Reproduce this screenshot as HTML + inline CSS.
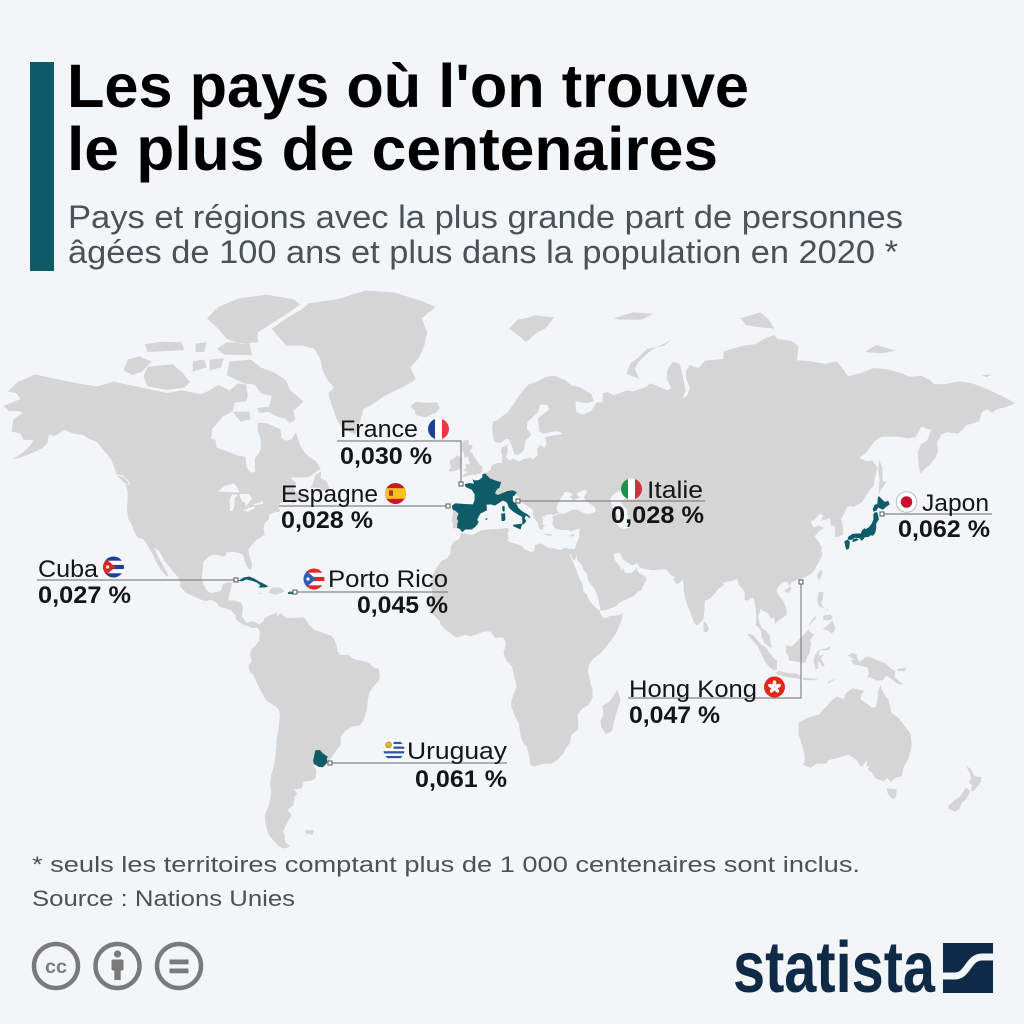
<!DOCTYPE html>
<html lang="fr">
<head>
<meta charset="utf-8">
<title>Les pays où l'on trouve le plus de centenaires</title>
<style>
  html,body{margin:0;padding:0;background:#f3f6f9;}
  svg{display:block;}
  text{font-family:"Liberation Sans", Arial, sans-serif;}
  .nm{font-size:24px;fill:#151515;}
  .vl{font-size:24px;font-weight:700;fill:#151515;}
  .ln{stroke:#858585;stroke-width:1.2;fill:none;}
  .mk{fill:#fff;stroke:#555;stroke-width:1;}
</style>
</head>
<body>
<svg id="root" width="1024" height="1024" viewBox="0 0 1024 1024" xmlns="http://www.w3.org/2000/svg">
  <defs>
    <clipPath id="c"><circle cx="0" cy="0" r="10.5"/></clipPath>
  </defs>
  <rect x="0" y="0" width="1024" height="1024" fill="#f3f6f9"/>

  <!-- map layers -->
  <g id="land" fill="#d5d5d5"></g>
  <g id="water" fill="#f3f6f9"></g>
  <g id="teal" fill="#0e5c68"></g>

  <!-- title block -->
  <rect x="30" y="62" width="24" height="209" fill="#0d5b66"/>
  <text x="67" y="107" font-size="61" font-weight="700" fill="#000" textLength="682" lengthAdjust="spacingAndGlyphs">Les pays où l'on trouve</text>
  <text x="67" y="170" font-size="61" font-weight="700" fill="#000" textLength="651" lengthAdjust="spacingAndGlyphs">le plus de centenaires</text>
  <text x="68" y="228" font-size="32" fill="#4c5157" textLength="835" lengthAdjust="spacingAndGlyphs">Pays et régions avec la plus grande part de personnes</text>
  <text x="68" y="263" font-size="32" fill="#4c5157" textLength="830" lengthAdjust="spacingAndGlyphs">âgées de 100 ans et plus dans la population en 2020 *</text>

  <!-- leader lines -->
  <path class="ln" d="M337,441 H461 V484"/>
  <path class="ln" d="M279,506 H448"/>
  <path class="ln" d="M518,501 H705"/>
  <path class="ln" d="M289,592 H448"/>
  <path class="ln" d="M37,580 H236"/>
  <path class="ln" d="M330,763 H507"/>
  <path class="ln" d="M628,698 H801 V583"/>
  <path class="ln" d="M882,514 H992"/>
  <rect class="mk" x="459" y="482" width="4" height="4"/>
  <rect class="mk" x="446" y="504" width="4" height="4"/>
  <rect class="mk" x="516" y="499" width="4" height="4"/>
  <rect class="mk" x="293" y="590" width="4" height="4"/>
  <rect class="mk" x="234" y="578" width="4" height="4"/>
  <rect class="mk" x="328" y="761" width="4" height="4"/>
  <rect class="mk" x="799" y="580" width="4" height="4"/>
  <rect class="mk" x="880" y="512" width="4" height="4"/>

  <!-- labels -->
  <text class="nm" x="340" y="437" textLength="78" lengthAdjust="spacingAndGlyphs">France</text>
  <text class="vl" x="340" y="464" textLength="92" lengthAdjust="spacingAndGlyphs">0,030 %</text>

  <text class="nm" x="281" y="502" textLength="97" lengthAdjust="spacingAndGlyphs">Espagne</text>
  <text class="vl" x="281" y="528" textLength="92" lengthAdjust="spacingAndGlyphs">0,028 %</text>

  <text class="nm" x="647" y="498" textLength="56" lengthAdjust="spacingAndGlyphs">Italie</text>
  <text class="vl" x="611" y="523" textLength="93" lengthAdjust="spacingAndGlyphs">0,028 %</text>

  <text class="nm" x="328" y="587" textLength="120" lengthAdjust="spacingAndGlyphs">Porto Rico</text>
  <text class="vl" x="357" y="613" textLength="91" lengthAdjust="spacingAndGlyphs">0,045 %</text>

  <text class="nm" x="38" y="577" textLength="60" lengthAdjust="spacingAndGlyphs">Cuba</text>
  <text class="vl" x="38" y="603" textLength="93" lengthAdjust="spacingAndGlyphs">0,027 %</text>

  <text class="nm" x="407" y="759" textLength="100" lengthAdjust="spacingAndGlyphs">Uruguay</text>
  <text class="vl" x="415" y="787" textLength="92" lengthAdjust="spacingAndGlyphs">0,061 %</text>

  <text class="nm" x="629" y="697" textLength="128" lengthAdjust="spacingAndGlyphs">Hong Kong</text>
  <text class="vl" x="629" y="723" textLength="91" lengthAdjust="spacingAndGlyphs">0,047 %</text>

  <text class="nm" x="922" y="511" textLength="67" lengthAdjust="spacingAndGlyphs">Japon</text>
  <text class="vl" x="898" y="537" textLength="92" lengthAdjust="spacingAndGlyphs">0,062 %</text>

  <!-- flags -->
  <!-- France -->
  <g transform="translate(438.5,429)" clip-path="url(#c)">
    <rect x="-11" y="-11" width="7.5" height="22" fill="#1f3f97"/>
    <rect x="-3.5" y="-11" width="7" height="22" fill="#ffffff"/>
    <rect x="3.5" y="-11" width="7.5" height="22" fill="#e83a40"/>
  </g>
  <!-- Spain -->
  <g transform="translate(395.5,493.5)" clip-path="url(#c)">
    <rect x="-11" y="-11" width="22" height="22" fill="#c8182a"/>
    <rect x="-11" y="-5.3" width="22" height="10.6" fill="#f6c21b"/>
    <rect x="-6.5" y="-3.2" width="4" height="5.5" fill="#a8352a"/>
  </g>
  <!-- Italy -->
  <g transform="translate(631.5,489)" clip-path="url(#c)">
    <rect x="-11" y="-11" width="7.5" height="22" fill="#1a9448"/>
    <rect x="-3.5" y="-11" width="7" height="22" fill="#ffffff"/>
    <rect x="3.5" y="-11" width="7.5" height="22" fill="#d42f3a"/>
  </g>
  <!-- Cuba -->
  <g transform="translate(113.5,567)" clip-path="url(#c)">
    <rect x="-11" y="-11" width="22" height="22" fill="#ffffff"/>
    <rect x="-11" y="-10.5" width="22" height="4.2" fill="#1e3f96"/>
    <rect x="-11" y="-2.1" width="22" height="4.2" fill="#1e3f96"/>
    <rect x="-11" y="6.3" width="22" height="4.6" fill="#1e3f96"/>
    <polygon points="-11,-11 2,0 -11,11" fill="#d52b2b"/>
    <circle cx="-6" cy="0" r="1.6" fill="#fff"/>
  </g>
  <!-- Puerto Rico -->
  <g transform="translate(314,579)" clip-path="url(#c)">
    <rect x="-11" y="-11" width="22" height="22" fill="#ffffff"/>
    <rect x="-11" y="-10.5" width="22" height="4.2" fill="#e5262b"/>
    <rect x="-11" y="-2.1" width="22" height="4.2" fill="#e5262b"/>
    <rect x="-11" y="6.3" width="22" height="4.6" fill="#e5262b"/>
    <polygon points="-11,-11 2,0 -11,11" fill="#2f5fb3"/>
    <circle cx="-6" cy="0" r="1.6" fill="#fff"/>
  </g>
  <!-- Uruguay -->
  <g transform="translate(394,750)" clip-path="url(#c)">
    <rect x="-11" y="-11" width="22" height="22" fill="#ffffff"/>
    <rect x="-11" y="-8.2" width="22" height="2.3" fill="#2f55a4"/>
    <rect x="-11" y="-3.5" width="22" height="2.3" fill="#2f55a4"/>
    <rect x="-11" y="1.2" width="22" height="2.3" fill="#2f55a4"/>
    <rect x="-11" y="5.9" width="22" height="2.3" fill="#2f55a4"/>
    <rect x="-11" y="-11" width="10.5" height="11.5" fill="#ffffff"/>
    <circle cx="-5.5" cy="-5.2" r="3" fill="#e8b33a" stroke="#9a6a22" stroke-width="0.6"/>
  </g>
  <!-- Hong Kong -->
  <g transform="translate(774.5,687)">
    <circle r="10.5" fill="#e0281b"/>
    <g fill="#ffffff">
      <ellipse cx="0" cy="-3.6" rx="1.9" ry="3.2" transform="rotate(0)"/>
      <ellipse cx="0" cy="-3.6" rx="1.9" ry="3.2" transform="rotate(72)"/>
      <ellipse cx="0" cy="-3.6" rx="1.9" ry="3.2" transform="rotate(144)"/>
      <ellipse cx="0" cy="-3.6" rx="1.9" ry="3.2" transform="rotate(216)"/>
      <ellipse cx="0" cy="-3.6" rx="1.9" ry="3.2" transform="rotate(288)"/>
    </g>
  </g>
  <!-- Japan -->
  <g transform="translate(906.5,502)">
    <circle r="10.3" fill="#ffffff" stroke="#bdbdbd" stroke-width="1"/>
    <circle r="5.8" fill="#c8102e"/>
  </g>

  <!-- footer -->
  <text x="32" y="872" font-size="22" fill="#4c5157" textLength="828" lengthAdjust="spacingAndGlyphs">* seuls les territoires comptant plus de 1 000 centenaires sont inclus.</text>
  <text x="32" y="906" font-size="22" fill="#4c5157" textLength="263" lengthAdjust="spacingAndGlyphs">Source : Nations Unies</text>

  <!-- CC icons -->
  <g stroke="#7a7a7a" stroke-width="4.5" fill="none">
    <circle cx="56" cy="966" r="22"/>
    <circle cx="117.5" cy="966" r="22"/>
    <circle cx="179" cy="966" r="22"/>
  </g>
  <text x="56" y="973" font-size="19" font-weight="700" fill="#7a7a7a" text-anchor="middle" textLength="22" lengthAdjust="spacingAndGlyphs">cc</text>
  <g fill="#7a7a7a">
    <circle cx="117.5" cy="954" r="3.6"/>
    <rect x="111.5" y="959.5" width="12" height="11" rx="1.5"/>
    <rect x="114.3" y="969" width="6.4" height="11"/>
    <rect x="169.5" y="959.5" width="19" height="4.8"/>
    <rect x="169.5" y="968.5" width="19" height="4.8"/>
  </g>

  <!-- statista logo -->
  <text x="733" y="992" font-size="72" font-weight="700" fill="#0f2a46" textLength="202" lengthAdjust="spacingAndGlyphs">statista</text>
  <rect x="943" y="943" width="50" height="50" fill="#0f2a46"/>
  <path d="M941,976 L955,976 C968,976 968,957 982,957 L995,957" stroke="#f3f6f9" stroke-width="7" fill="none"/>
</svg>

<script>
(function(){
  var NS = "http://www.w3.org/2000/svg";
  function P(lon, lat){
    var x = 478 + 2.824*lon;
    var y = 651.5 - 227.4*Math.log(Math.tan(Math.PI/4 + 0.4*lat*Math.PI/180));
    return x.toFixed(1) + "," + y.toFixed(1);
  }
  function poly(a){
    var s = [];
    for (var i = 0; i < a.length; i += 2) s.push(P(a[i], a[i+1]));
    return "M" + s.join("L") + "Z";
  }
  function add(id, list){
    var d = "";
    for (var i = 0; i < list.length; i++) d += poly(list[i]);
    var e = document.createElementNS(NS, "path");
    e.setAttribute("d", d);
    document.getElementById(id).appendChild(e);
  }

  var NA = [-168,65.6,-164,66.5,-162,66.9,-163.5,68,-166.5,68.3,-163,70,-156.8,71.3,-152,70.8,-145,70.1,-141,69.7,-135,69.2,-129,70.1,-124,69.5,-117,68.8,-110,68,-105,68.5,-98,67.8,-95,68.5,-92,69.5,-88,68.5,-85,69.8,-82,69.5,-81.5,67.5,-82,66.5,-86,66.2,-87,64.5,-90.5,63.5,-94,61,-94.5,59,-93,58.7,-92.5,57,-88,56,-85,55.2,-82.3,55,-82,52.7,-80.5,51.3,-79,51.5,-79,54.5,-77,56.5,-76.8,58.5,-78,60.7,-78,62.3,-75,62.2,-72,61.5,-70,61,-69.5,59,-68,58.5,-66,58.8,-64.5,60.3,-63,57.5,-61.5,56,-60,55,-57.5,54,-55.7,52.2,-57.5,51.4,-60,50.2,-66.5,50.1,-64.3,48.8,-65.5,47.8,-64.6,46.6,-62,45.7,-60,46.2,-60,45.5,-63.5,44.5,-65.8,43.6,-66.1,44.9,-67.5,44.5,-70.2,43.6,-70.6,42.6,-70,41.8,-70.5,41.5,-72.5,41.2,-74,40.6,-74,39.5,-75.5,38.5,-76,37,-75.5,35.3,-77,34.5,-78.5,33.8,-80,32.5,-81.3,31,-81,29.5,-80,27,-80.2,25.5,-81,25.2,-82,26.5,-82.8,28,-83,29.5,-84.5,30,-86.5,30.4,-89,30.3,-89.5,29.2,-90.5,29.1,-93,29.7,-95,29.3,-97.2,27.6,-97.5,25.8,-97.8,22.5,-97,20.5,-96,19,-94.5,18.2,-92,18.6,-91,19,-90.4,20.8,-89,21.4,-87,21.5,-87.5,19.5,-88,18,-88.5,16,-86,15.9,-84,15.3,-83.3,14,-83.6,11,-82,9,-79.5,9.5,-77.5,8.5,-77.3,7.8,-78,7.5,-80,7.3,-81.5,8,-83.5,8.5,-85.7,10,-85.8,11.2,-87.5,13,-89.5,13.5,-91.5,14,-93,15.5,-94.5,16.1,-96.5,15.7,-98.5,16.3,-101,17.3,-103.5,18.3,-105.5,20.3,-105.3,21.6,-106.5,23.3,-109,25.8,-111,27.8,-112.8,30.5,-114.7,31.7,-113.2,29,-111.5,26.5,-110,24,-109.5,23.1,-110.3,23.3,-112,24.8,-114,27.5,-115,29.5,-116.5,31.5,-117.2,32.6,-118.5,34,-120.6,34.5,-121.9,36.5,-122.5,37.8,-123.8,39.5,-124.3,42,-124,46.2,-124.7,48.4,-123,48.3,-124,49.5,-125.5,50.5,-128,51,-130,54.5,-132,56,-135,58.3,-137.5,58.8,-140,59.8,-143,60,-146.5,60.8,-150,59.5,-152,59.8,-152.5,58,-154,57,-158,55.8,-162,54.8,-164.8,54.4,-161,56,-158.5,57.5,-157.5,58.7,-161,58.7,-162,60,-165.2,60.5,-164.5,63,-161,64.3,-163,64.6,-166,64.6];

  var GREEN = [-73,78.5,-68,76,-62,76,-58,75.5,-56,74,-55,72,-53.5,70.5,-51,69,-53,68,-52,66,-50,63,-48,61,-43.5,59.8,-42,62,-40.5,65,-38,65.7,-33,67.5,-25,69.5,-22,70.5,-24,72.5,-21,74,-19,76,-18,78,-20,80,-15,81.5,-20,82.3,-30,83.4,-40,83.6,-50,82.5,-60,82,-62,81.3,-67,80.2,-73,78.5];

  var ARCTIC_CA = [
    [-80.5,73.8,-77,72.5,-72,71.6,-68,70.3,-66.5,68.5,-63,67,-61.8,66.5,-64.5,65,-65.5,64.6,-64.6,63,-66.5,62.2,-68.5,63.2,-71,63.5,-74,64.4,-77.5,64.3,-78.2,65.2,-74,65.5,-73,67.5,-77,68,-79,69.5,-83,69.8,-86,70.5,-89,71.2,-88,73.5,-85,73.6,-80.5,73.8],
    [-89,77,-84,76.3,-78,76.5,-78,78,-74,79,-68,80.5,-63,81.8,-65,82.5,-75,83.1,-85,82.6,-92,81.5,-96,80,-92,78.5,-89,77],
    [-80,74.5,-90,74.6,-92.5,75.5,-89,76.5,-81,76.4,-80,74.5],
    [-104,69,-110,68.6,-117,69.2,-118.5,71,-117,72.6,-113,72.8,-108,73,-104.5,71.5,-102,70,-104,69],
    [-125.5,72,-124,73.8,-120,74.3,-115.5,73.5,-119,71.8,-122.5,71.2,-125.5,72],
    [-117,75,-104,75.3,-105,76.5,-112,76.6,-118,76.2,-117,75],
    [-101,71.8,-96,72.5,-97,73.8,-101,73.5,-101,71.8],
    [-95,72,-91,72.5,-90,74,-95,73.8,-95,72],
    [-100,75,-97,75,-96,76.5,-100,76.3,-100,75],
    [-92,79,-87,79.5,-87,81,-93,81.3,-95,80,-92,79],
    [-87,64.5,-81,64.5,-80.5,63,-84,62.5,-87,64.5],
    [-59.4,47.6,-58.5,48.6,-57.5,50.8,-55.5,51.6,-55.8,50,-53.6,49.2,-52.7,47.5,-53.6,46.6,-55.5,47,-56.2,47.6,-59.4,47.6],
    [-128.3,50.8,-125,50,-123.4,48.4,-124.8,48.6,-127,50,-128.3,50.8]
  ];

  var CARIB = [
    [-74.4,18.3,-72.8,19.9,-70,19.8,-68.4,18.6,-70,18.2,-71.5,17.7,-74.4,18.3],
    [-78.3,18.4,-76.3,18.1,-76.8,17.8,-78.3,18.4]
  ];

  var SA = [-77.3,8.6,-76,9.5,-75.5,10.5,-74,11.2,-72,11.9,-71.3,12.4,-71,11,-70,12.1,-68,10.5,-66,10.6,-64,10.6,-61.8,10.7,-61,10.1,-60,8.5,-58,6.8,-55,5.9,-52,5,-51,4,-50,1.8,-49.8,0,-48.5,-1.2,-46,-1,-44,-2.4,-41,-2.9,-38.5,-3.7,-37,-5,-35.2,-5.4,-34.8,-7.5,-35,-9,-37,-11,-38.5,-13,-39,-15,-39.2,-17.5,-40,-20,-41,-22,-42,-23,-44.5,-23.2,-47,-24.5,-48.5,-26,-48.6,-28.5,-50,-30,-51.5,-31.8,-53.4,-33.7,-54.9,-34.9,-56.5,-34.8,-58.4,-34.2,-57.2,-35.8,-57.5,-38,-59,-38.7,-62,-39,-62.3,-40.7,-65,-41,-64,-42.2,-65,-43,-65.3,-45,-67.5,-46.3,-66,-47.5,-68,-50,-69,-51.6,-68.4,-52.4,-68.3,-54,-66.5,-55,-68.5,-55.5,-70.5,-55,-72,-54,-74,-52.5,-75.2,-50,-75.5,-47.5,-74,-45,-73.2,-42,-73.7,-39.5,-73.2,-37,-72,-33.5,-71.5,-30,-71.3,-27,-70.6,-24,-70.2,-20,-70.4,-18.3,-71.5,-17.3,-75,-15.3,-76.5,-13,-78,-10.5,-79.5,-7.5,-81,-6,-81.3,-4.3,-80,-3,-80.9,-1,-80,1,-79,1.6,-77.5,3.5,-77.3,6,-78,7.5,-77.9,8.3,-77.3,8.6];
  var FALK = [-61.3,-51.3,-58,-51.2,-58.5,-52.3,-61,-52,-61.3,-51.3];

  var AF = [-5.9,35.8,-2,35.1,1,36.5,5,36.8,8.6,36.9,10.2,37.2,11,36.8,10.5,35.5,11,34,10.2,33.7,11.5,33.1,13,32.9,15.3,32.2,16.5,31.2,19,30.3,20.1,31,20,32.2,22,32.9,23.5,32.3,25,31.6,27,31.4,29,30.9,31,31.6,32.3,31.3,34.3,31.2,34.9,29.5,34.2,27.8,33.6,28.3,32.6,29.9,32.4,29.6,33.8,27.2,35,24.8,35.7,23,37,21,37.3,18.8,38.5,17.8,39.7,15.5,41.5,13.9,43.2,12.6,43.3,11.9,44.5,10.4,47,11.2,49,11.3,51.2,11.8,51.1,10.5,50.5,9,49,6,48,4.5,46,2.2,43.5,-0.5,41.5,-1.8,40.2,-2.8,39.2,-4.7,38.8,-6.5,39.5,-8,39.8,-10,40.5,-11.5,40.6,-14.2,39.3,-16.5,37,-17.8,35.3,-19.5,35.5,-22,35.5,-24,32.9,-25.9,32.6,-28,31.3,-29.4,30,-31.3,28,-33,25.7,-34,23,-34,20,-34.8,18.4,-34.2,18.3,-32.5,17.2,-29,16.4,-28.5,15.2,-26.5,14.5,-22.5,13,-20,11.8,-17.2,11.8,-15.7,12.5,-13.5,13.7,-11,13,-8.5,12.3,-6,12,-4.8,10,-2.8,9,-0.5,9.5,1,9.8,3,8.8,4.4,6,4.3,4.5,6.3,2,6.3,-1,5.2,-2.5,4.8,-4.5,5.2,-7.5,4.4,-9.5,5.5,-11.5,6.9,-13.3,8.5,-13.5,9.5,-15,10.8,-16.7,12.3,-17.4,14.7,-16.5,16,-16.1,18.5,-16.5,19.6,-17,21,-16,23.8,-14.5,26,-13,27.8,-11,28.5,-9.8,29.8,-9.6,32,-8.5,33.3,-6.8,34,-5.9,35.8];
  var MADA = [49.3,-12,50.5,-15.2,49.8,-17,48.7,-20,47.5,-24.5,45.3,-25.5,43.7,-23.5,43.3,-21.5,44.4,-19.5,44,-17,46.3,-15.8,48,-13.8,49.3,-12];

  var EU = [-5.6,36,-6.4,36.8,-7.5,37.1,-8.9,37,-8.8,38.7,-9.5,38.8,-9,40,-8.8,42,-9.3,43,-8,43.7,-5,43.5,-1.8,43.4,-1.2,44.5,-1.2,46,-2.2,47.1,-4.4,47.8,-4.7,48.5,-3,48.8,-1.4,48.6,-1.9,49.7,-1.2,49.4,0.2,49.5,1.5,50.1,1.6,50.9,3,51.3,4.5,52,4.8,53,6.5,53.5,8.5,53.6,8.6,55,8.1,56.5,8.6,57.1,10.5,57.7,10.5,56.3,10.3,55.6,9.8,55,10.9,54.2,12.5,54.5,14.5,53.9,16.5,54.5,18.5,54.8,19.5,54.4,21.2,55.3,21,56.8,22,57.6,23.5,57,24.3,57.8,24,58.8,23.5,59.2,26,59.6,28.5,59.8,30,60,28.5,60.5,27,60.5,23,60,21.5,60.6,21.5,61.8,21.2,63.2,23,64,25.3,65,24.5,65.8,22,65.8,21.3,64.5,19.5,63.5,17.5,62.5,17.3,61,18.8,60,18.2,59.3,16.7,58.5,16.5,57,15.8,56.1,14.2,55.4,12.8,55.5,12.5,56.3,11.9,57.5,11,58.8,10,59,8,58.1,6,58.2,5.5,59,5,61,5.3,62.5,7,62.9,10.5,64.4,12.5,65.9,14.5,67.5,16,68.5,18,69.6,21,70.1,24,70.9,27,71.1,29,70.7,31,70.3,33,69.4,36,69.1,40,67.9,41,66.5,38.5,66.1,34.5,66.5,34.8,64.5,37,63.9,40,64.6,42,66.3,44,66.2,44.2,68,46,68.2,48,67.6,53,68.5,55,68.3,58,68.9,60,69.3,61,69.8,64,69.2,67,68.5,68.5,68.9,66.8,70.6,67,72,69,73.5,71.5,73,72.5,71,73.5,68.5,72.5,67,74,67.5,75,69,73.8,70.5,73.5,71.8,75,72.9,78,72.4,80.5,73.6,86.8,73.9,87,75.1,94,76,98,76.2,102,77.2,105,77.6,106,77,111,76.7,113.5,76,113,73.7,118,73.5,123,73.1,127,73.5,129,72.4,131,71,136,71.6,140,72.4,145,72.2,150,71.5,153,70.9,157,71.1,160,70.4,161.5,69.6,165,69.6,168,69.9,170.5,70.1,175,69.8,180,68.8,185,67.6,188,66.8,190.3,66.1,187,65.4,184,65,182,64.3,180,65,178.5,64.4,177.5,62.6,173,61.8,170,60,166,60.3,164,59.8,162.5,58,163,56.5,162,54.8,160,53,158.5,52.4,156.7,51,156,53,155.7,56,156.8,57.8,159,58.5,160.5,60.8,157,61.5,155,59.3,152,59,149,59.4,143,59.4,140.5,58.5,137.5,56,135,54.7,137.5,54,139.7,54.1,141.5,52.5,140.5,50,140,48,138.5,46.8,136,44,133,42.8,131.5,43,130.6,42.5,129.7,41,128.5,39.6,129.4,37,129.3,35.3,127.5,34.7,126.3,34.5,126.5,37,126,37.8,125,37.8,124.6,39.8,122,39.2,121.2,38.8,122.3,40.5,121,40.9,119,39.2,117.7,38.8,118.8,37.3,120.8,37.8,122.5,37.2,120.5,36,119.2,34.8,120.6,33.3,121.8,31.7,121.5,30.8,122,29.8,121.2,28.2,120,26.5,119.4,25.3,117.5,23.7,115,22.7,113.5,22.3,111,21.5,110.2,20.2,109.8,21.5,108,21.6,106.7,20.5,105.7,19,106.5,17.5,108,16,109.2,13.5,109.3,11.5,107.6,10.4,106.6,9.8,105,8.6,105,10.5,103.5,10.6,102.5,12.2,100.9,12.7,100.2,13.5,99.2,11,99.6,9.3,100.4,7.3,101.8,6.7,103.4,4.8,103.5,2.6,104.2,1.4,103.5,1.3,101.3,2.8,100.4,4.8,100.3,6.4,99.3,7.7,98.3,8.2,98.6,10.5,98.3,13.5,97.7,16.5,96.5,16.7,95.3,15.8,94.3,16.2,94.5,18.2,93.5,19.7,92.3,20.7,91.8,22.5,90.5,22,89,21.8,86.8,21.3,86.9,20.5,85,19.4,84,18.2,82.3,16.6,80.3,15.8,80.2,13.2,79.9,10.3,79,9.3,77.5,8.1,76.5,9,75.5,11.5,74.6,13.5,73.5,16,72.8,19,72.8,21,72.6,22.2,70.5,20.9,69,22.4,70,22.9,68.5,23.6,67.3,24.6,66.5,25.4,64.5,25.2,61.5,25.1,59.5,25.4,57.3,25.8,56.4,27.1,54.7,26.5,52.5,27.6,51.3,28.2,50.8,29.3,50,30.2,48.5,29.9,47.9,29.5,48.5,28,49.5,27,50.2,26.2,50.8,24.8,51.3,26.1,51.6,24.8,52.5,24.2,54.5,24.3,56,25.5,56.3,26.3,56.4,24.9,57.8,23.7,58.7,23.6,59.8,22.4,58.9,21,57.8,19,56.6,18.6,55.3,17.4,52.5,16.3,50,15.2,48.5,14,45,12.9,43.5,12.7,43.2,13.8,42.8,15.5,42.5,17,41.2,19.5,40,20.8,39,22,38.5,24,37.5,25,36.6,26.7,35.2,28,34.9,29.5,34.3,31.2,34.6,32,35,33,35.9,34.7,35.8,36,36.2,36.7,34.7,36.8,33,36.1,32,36.6,30.5,36.5,29,36.6,27.3,37,26.3,38.3,26.6,39.3,26.2,40,26.4,40.2,27,40.4,29,40.9,31,41.1,33.5,42,35.2,42,36.9,41.3,38.4,40.9,40,41,41.5,41.5,41.6,42.5,40,43.4,38,44.4,37.5,45.2,38.8,46.9,37.5,47,35,46.3,35.5,45.4,36.5,45.3,35,44.8,33.5,44.5,32.5,45.4,33.7,46,31.7,46.6,30.7,46.5,29.6,45.3,28.6,44,27.8,42.6,28.1,41.6,29,41.1,28,41,26.6,40.6,26,40.8,24,40.7,23.5,40.2,22.6,40.4,23,39.3,22.8,38,23.9,38,23.2,37.4,22.8,36.5,21.7,36.9,21.2,37.8,21.3,38.4,20.2,39.5,19.4,40.4,19.5,41.8,18.5,42.5,17,43.2,15.8,43.8,15,45,13.8,45.6,13,45.7,12.3,45.4,12.4,44.2,13.6,43.5,14.3,42.5,15.2,41.9,16.1,41.4,17.5,40.8,18.5,40.1,18.3,39.8,17,40.5,16.5,39.7,17.1,39,16.5,38.4,15.7,37.9,15.7,38.8,15.6,40.1,14.5,40.6,12.5,41.5,11,42.5,10.2,43.9,8.8,44.4,7.5,43.8,6,43.1,4.5,43.4,3,43.3,3.1,42.3,0.8,41,0,39.8,-0.3,39.3,0.2,38.7,-0.7,37.6,-2.2,36.7,-4.5,36.7];

  var ISL = [
    [-5.7,50.1,-3,50.7,-1,50.8,1.4,51.2,1.7,52.6,0.3,53.3,-0.2,54,-1.4,55,-2,55.9,-3,56,-1.8,57.5,-3.5,57.7,-3.1,58.6,-5,58.6,-5.7,57.5,-5.6,56.3,-5,55.8,-4.9,54.8,-3.2,54.9,-3.4,54.3,-2.9,53.8,-3.1,53.3,-4.6,53.3,-4.2,52.8,-4.2,52.3,-5.2,51.8,-3.3,51.4,-4.5,51.2,-5.7,50.1],
    [-6,52.2,-6.2,53.5,-5.7,54.6,-7.3,55.3,-8.5,54.6,-10,54.2,-9.9,53.4,-9.5,52.6,-10.4,51.9,-9.5,51.5,-8,51.8,-6,52.2],
    [-24,65.5,-22,66.4,-18,66.2,-14.5,66.3,-13.5,65.2,-15,64.3,-18.5,63.4,-22,63.8,-22.5,64.8,-24,65.5],
    [11,78.5,14,79.8,17,80,20,80.4,27,80.1,24,78.6,21,78,17,76.5,15,77.3,11,78.5],
    [52.5,71.4,57,70.6,55.5,72.3,57,73.5,61,75.2,68.5,76.9,66,76,60,75.5,56.5,74,54,73.2,52.5,71.4],
    [95,79,100,78.7,105,78.5,103,79.8,100,80.8,93,80,95,79],
    [48,80,55,80.8,62,80.6,58,79.8,50,79.8,48,80],
    [137,75,143,74.8,148,75.2,141,76.1,137,75],
    [178.5,71.2,182,71.3,180,70.8,178.5,71.2],
    [79.9,9.7,81.2,8.5,81.8,7,81.2,6.2,80,6,79.8,7.5,79.9,9.7],
    [121.5,25.2,122,24.8,121,22,120.2,22.9,120.1,23.8,121.5,25.2],
    [108.7,19.3,110.5,20.1,111,19.6,110,18.3,108.7,18.5,108.7,19.3],
    [142,54.3,143.2,52.5,143.3,49.2,144.6,49,142.9,47.3,142,46,141.9,47.6,142.2,49.5,141.7,52,142,54.3],
    [120.6,18.5,122.3,18.5,122.1,16.3,121.5,15.5,122,14,124,13,124,12.5,123,13.5,121.5,13.8,120.6,14.3,120.1,16,120.6,18.5],
    [122,7,123.5,8,125.5,9.8,126.5,7.5,126,6.3,125.3,5.7,124,6.5,122,7],
    [123,11.5,125,11.5,125.6,10.5,124.5,9.8,122.5,9.8,122,10.8,123,11.5],
    [117.2,8.4,119.5,11.4,119.7,10.5,117.5,8.2,117.2,8.4],
    [109,1.5,109.6,2,111,1.5,113,3.2,114.8,4.8,116,6,117.2,7,117.7,6,119.2,5.3,118.2,4.4,117.6,3.5,118,2.1,117.6,1,117.5,-0.5,116.5,-1.7,116,-3.5,114.5,-3.5,113,-3.2,111.5,-3,110.2,-2.9,110,-1.5,109,-0.3,109,1.5],
    [95.3,5.6,97.5,5.2,98.7,3.8,100.5,2,101.5,1.7,103.8,-1,104.5,-1.9,106,-3,105.8,-5.8,104.6,-5.9,103,-4.8,101.5,-3,100.3,-0.8,99.1,1.5,98,2.8,96.3,4.3,95.3,5.6],
    [105.2,-6.8,106.5,-6,108.5,-6.5,110.5,-6.9,112.6,-6.9,114.5,-7.8,114.4,-8.7,112,-8.3,110,-8.1,108,-7.7,106.5,-7.4,105.2,-6.8],
    [115,-8.2,119,-8.5,120.8,-8.3,119,-9,116,-9,115,-8.8,115,-8.2],
    [124,-9.4,127.2,-8.4,125,-9.5,124,-10.2,124,-9.4],
    [118.8,-3,119.5,-5.5,120.4,-5.5,120.6,-2.8,122,-4.8,122.8,-4.6,121.4,-2,122.6,-1,120.6,-1.3,121,0.5,123,0.9,124.9,1.6,124.3,0.4,120.3,0.3,120,-0.5,119.4,-0.9,118.8,-3],
    [131,-1.3,132.5,-0.4,134,-0.9,135,-3.3,137.8,-1.5,141,-2.6,144.5,-3.8,146,-5.3,147.8,-6.2,147.5,-8,149,-9.3,150.8,-10.4,148.5,-10.2,146.4,-8.6,144.5,-7.6,143.4,-9,141,-9.1,139,-8.1,137.8,-8.3,138.5,-6.8,137.9,-5,135,-4.4,133,-4,132,-2.8,133.8,-2.5,132.3,-2.1,131,-1.3],
    [148.5,-5.5,152,-5,151,-6.2,148.5,-6,148.5,-5.5],
    [113.6,-22,114.2,-21.8,116.7,-20.6,119,-20,121,-19.5,122.2,-18,123.5,-17,125,-15.5,127,-14,129.5,-14.9,130.3,-13,132.6,-11.5,135.5,-12.1,136.8,-12.2,135.8,-13.5,135.4,-14.9,137.5,-16.2,139.5,-17.5,140.8,-17.4,141.5,-15,141.6,-12.5,142.5,-10.7,143.5,-12.8,144.5,-14.3,145.4,-15,146.3,-19,148.8,-20.5,150.6,-22.5,153.1,-25.2,153.6,-28.6,153,-31,152.1,-33,150.8,-34.8,150,-37.5,148,-37.8,146.3,-39,144.9,-37.9,143.5,-38.8,140.6,-38,139.6,-36.5,138.1,-35.7,138.5,-34.5,137.5,-34.9,137.8,-33,136,-34.8,135.2,-34.5,134,-32.9,131.2,-31.5,128,-32.2,124,-33,123.5,-33.9,119.9,-34,117.8,-35.1,115,-34.3,115.7,-33.3,115.7,-31.5,115,-29.5,114,-26.6,113.4,-25.5,113.5,-24,113.6,-22],
    [144.6,-40.7,148.3,-40.9,148,-43,146.9,-43.6,145.2,-42.2,144.6,-40.7],
    [172.7,-34.4,174.5,-35.5,175.9,-37.5,178.5,-37.7,177.9,-39.2,176.9,-40.2,175.3,-41.6,174.6,-41.2,175,-39.8,173.8,-39.2,174.6,-38,174.3,-36.8,172.7,-34.4],
    [172.7,-40.5,174.3,-41.3,173.9,-42.3,172.8,-43.6,171.2,-44.5,170.6,-45.9,169,-46.7,166.5,-46,166.8,-45.2,168.4,-44,170.5,-43,172,-41.5,172.7,-40.5],
    [23.5,35.6,26.3,35.3,26,35,24,35.1,23.5,35.6],
    [32.3,35,34.5,35.6,33.8,34.9,32.5,34.7,32.3,35]
  ];

  var WATER = [
    [46.7,44.5,47.5,45.6,49,46.5,51.2,47,53,46.8,53.2,45.3,51.3,44.5,50.3,44.3,51.5,43,52.7,42,53,40,53.8,39,53.9,37.3,51.5,36.8,50,37.4,49,38.4,49.5,40.2,48,41.8,47.5,43,46.7,44.5],
    [-92.1,46.7,-90,46.6,-87,46.5,-84.6,46.5,-85,47.5,-86.5,48.7,-88.5,48.3,-90,47.9,-92.1,46.7],
    [-87.8,41.7,-87,41.6,-86.3,43,-86.2,45,-85,45.8,-87,46,-88,44.5,-87.8,41.7],
    [-84.7,45.9,-83.5,46.1,-81,46,-80,45,-81.7,43.3,-82.4,43,-82.5,44,-83.4,44.1,-84.7,45.9],
    [-83.3,41.9,-81,42.5,-79,42.9,-79,42.4,-81.5,41.5,-83.3,41.9],
    [-79.7,43.3,-76.3,44.2,-76,43.5,-79,43.2,-79.7,43.3]
  ];

  var TEAL = [
    // France
    [-1.8,43.4,-1.2,44.5,-1.2,46,-2.2,47.1,-4.4,47.8,-4.7,48.5,-3,48.8,-1.4,48.6,-1.9,49.7,-1.2,49.4,0.2,49.5,1.5,50.1,1.6,50.9,2.5,51.1,4.2,49.9,5.8,49.5,7,49.2,8.2,49,7.6,47.6,6.8,47.3,6,46.2,7,45.8,6.7,45,7,44.2,7.5,43.8,6,43.1,4.5,43.4,3,43.3,3.1,42.4,1.5,42.5,0,42.7,-1.8,43.4],
    [8.6,42.9,9.4,43,9.5,42,9.2,41.4,8.6,41.9,8.6,42.9],
    // Spain
    [-1.8,43.4,0,42.7,1.5,42.5,3.1,42.4,3.2,41.9,0.8,41,0,39.8,-0.3,39.3,0.2,38.7,-0.7,37.6,-2.2,36.7,-4.5,36.7,-5.6,36,-6.4,36.8,-7.4,37.2,-7.3,38.4,-7,39,-7.5,39.7,-6.9,41,-8.2,41.9,-8.9,41.9,-9.3,43,-8,43.7,-5,43.5,-1.8,43.4],
    [2.4,39.6,3.4,39.8,3.2,39.3,2.6,39.5,2.4,39.6],
    // Italy
    [7.5,43.8,8.8,44.4,10.2,43.9,11,42.5,12.5,41.5,14.5,40.6,15.6,40.1,15.7,38.8,15.7,37.9,16.5,38.4,17.1,39,16.5,39.7,17,40.5,18.3,39.8,18.5,40.1,17.5,40.8,16.1,41.4,15.2,41.9,14.3,42.5,13.6,43.5,12.4,44.2,12.3,45.4,13,45.7,13.7,46.5,12.3,47,10.5,46.8,9,46.4,7,45.8,6.7,45,7,44.2,7.5,43.8],
    [12.4,38,15.6,38.3,15.1,36.7,12.5,37.6,12.4,38],
    [8.2,41,9.6,41.1,9.7,39.2,9,39,8.4,39,8.2,41],
    // Japan
    [140,41.5,141.2,41.8,141.7,42.6,143.3,42,145,43,145.8,43.4,145.3,44.3,144,44.1,142,45.5,141.6,45.2,141.4,43.5,140.4,43.3,139.8,42.2,140,41.5],
    [141.4,41.4,142,39.5,141,38.3,141,36.9,140.6,35.7,139.8,35,139,35.1,138.3,34.6,137,34.6,136.8,34.3,135.9,33.5,135.1,34.3,133.5,34.4,132.2,33.8,130.9,33.9,131.1,34.7,132.6,35.5,134,35.6,135.5,35.6,136,36.5,136.9,37.1,137.3,36.8,138.5,37.4,139.5,38.4,140,39.5,140,40.8,140.5,41.3,141.4,41.4],
    [132.5,33.2,133.6,33.4,134.7,33.8,134.2,34.3,132.8,34,132.5,33.2],
    [129.7,33.4,130.9,33.9,131.7,33.3,131.4,31.4,130.6,31,130.2,31.5,129.9,32.7,129.7,33.4],
    // Cuba
    [-84.9,21.9,-83,22.9,-81,23.2,-79,22.5,-77.5,21.7,-76,21.1,-74.2,20.2,-75.5,19.9,-77.7,19.9,-77.1,20.6,-78.5,21.5,-80.5,22,-82,22.3,-83.5,21.8,-84.9,21.9],
    // Puerto Rico
    [-67.3,18.5,-65.6,18.4,-65.7,17.9,-67.3,17.95,-67.3,18.5],
    // Uruguay
    [-58.4,-33.2,-58.1,-34,-56.3,-34.9,-54.9,-34.95,-53.4,-33.7,-53.5,-32.5,-53.2,-32,-55,-31,-56,-30.1,-57.6,-30.2,-58.2,-32.4,-58.4,-33.2]
  ];

  var landList = [NA, GREEN, SA, FALK, AF, MADA, EU].concat(ARCTIC_CA, CARIB, ISL);
  add("land", landList);
  add("water", WATER);
  add("teal", TEAL);
})();
</script>
</body>
</html>
